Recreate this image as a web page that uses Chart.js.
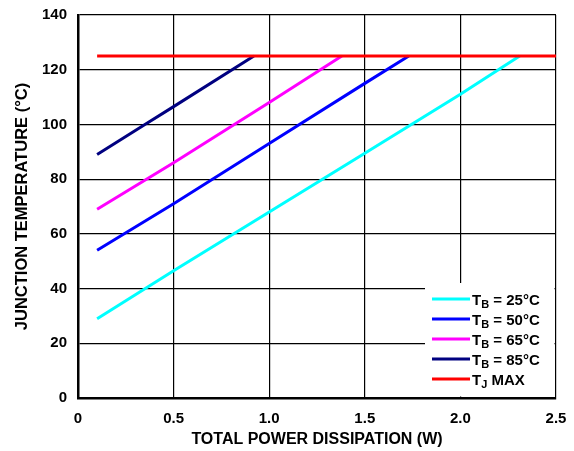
<!DOCTYPE html>
<html>
<head>
<meta charset="utf-8">
<script src="https://cdn.jsdelivr.net/npm/chart.js@4"></script>
<style>
  html, body { margin: 0; padding: 0; background: #fff; }
  #wrap { width: 574px; height: 451px; }
</style>
</head>
<body>
<div id="wrap"><canvas id="junction-temp"></canvas></div>
<script>
// values
var powerTB25 = [0.1, 0.5, 1.0, 1.5, 2.0, 2.31];
var tempTB25  = [29, 46.5, 68, 89.5, 111, 125];
var powerTB50 = [0.1, 0.5, 1.0, 1.5, 1.73];
var tempTB50  = [54, 71, 93, 115, 125];
var powerTB65 = [0.1, 0.5, 1.0, 1.38];
var tempTB65  = [69, 86, 108, 125];
var powerTB85 = [0.1, 0.35, 0.5, 0.92];
var tempTB85  = [89, 100, 106.5, 125];
var powerTJ   = [0.1, 2.5];
var tempTJ    = [125, 125];

var xTicks = [0, 0.5, 1.0, 1.5, 2.0, 2.5];
var yTicks = [0, 20, 40, 60, 80, 100, 120, 140];

// legend text: [main, subscript, rest]
var legendText = [
    ['T', 'B', ' = 25°C'],
    ['T', 'B', ' = 50°C'],
    ['T', 'B', ' = 65°C'],
    ['T', 'B', ' = 85°C'],
    ['T', 'J', ' MAX']
];
var lineColors = ['#00ffff', '#0000ff', '#ff00ff', '#000080', '#ff0000'];

function toPoints(xs, ys) {
    return xs.map(function(x, i) { return {x: x, y: ys[i]}; });
}

var FONT = 'Liberation Sans, Arial, sans-serif';

// legend box with subscripts, drawn over the grid
const subLegend = {
    id: 'subLegend',
    afterDraw: function(chart) {
        const ctx = chart.ctx;
        const area = chart.chartArea;
        ctx.save();
        ctx.fillStyle = '#fff';
        ctx.fillRect(425, 283, area.right - 1.5 - 425, area.bottom - 1.5 - 283);
        legendText.forEach(function(parts, i) {
            var y = 299 + i * 20;
            ctx.strokeStyle = lineColors[i];
            ctx.lineWidth = 3;
            ctx.beginPath();
            ctx.moveTo(432, y);
            ctx.lineTo(470, y);
            ctx.stroke();
            ctx.fillStyle = '#000';
            ctx.textBaseline = 'alphabetic';
            ctx.font = 'bold 15px ' + FONT;
            var x = 472;
            ctx.fillText(parts[0], x, y + 6);
            x += ctx.measureText(parts[0]).width;
            ctx.font = 'bold 11px ' + FONT;
            ctx.fillText(parts[1], x, y + 9);
            x += ctx.measureText(parts[1]).width;
            ctx.font = 'bold 15px ' + FONT;
            ctx.fillText(parts[2], x, y + 6);
        });
        ctx.restore();
    }
};

document.addEventListener('DOMContentLoaded', function() {
    const el = document.getElementById('junction-temp');
    const pts = [
        toPoints(powerTB25, tempTB25),
        toPoints(powerTB50, tempTB50),
        toPoints(powerTB65, tempTB65),
        toPoints(powerTB85, tempTB85),
        toPoints(powerTJ, tempTJ)
    ];

    new Chart(el, {
        type: 'line',
        data: {
            datasets: pts.map(function(p, i) {
                return {
                    label: legendText[i].join(''),
                    data: p,
                    borderColor: lineColors[i],
                    borderWidth: 3,
                    pointRadius: 0,
                    tension: 0,
                    order: i === 4 ? -1 : i
                };
            })
        },
        options: {
            responsive: true,
            maintainAspectRatio: false,
            animation: false,
            layout: {
                padding: {top: 15, right: 18, bottom: 2, left: 0}
            },
            plugins: {
                legend: {display: false},
                tooltip: {enabled: false}
            },
            scales: {
                x: {
                    type: 'linear',
                    min: 0,
                    max: 2.5,
                    afterBuildTicks: function(axis) {
                        axis.ticks = xTicks.map(function(v) { return {value: v}; });
                    },
                    afterFit: function(axis) {
                        axis.height = 51;
                        axis.paddingLeft = 0;
                        axis.paddingRight = 0;
                    },
                    grid: {color: '#000', lineWidth: 1.2, drawTicks: false},
                    border: {color: '#000', width: 2.5},
                    ticks: {
                        color: '#000',
                        padding: 12,
                        font: {family: FONT, size: 15, weight: 'bold'},
                        callback: function(v) { return v === 0 ? '0' : v.toFixed(1); }
                    },
                    title: {
                        display: true,
                        text: 'TOTAL POWER DISSIPATION (W)',
                        color: '#000',
                        font: {family: FONT, size: 16, weight: 'bold'},
                        padding: {top: 3, bottom: 0}
                    }
                },
                y: {
                    min: 0,
                    max: 140,
                    afterBuildTicks: function(axis) {
                        axis.ticks = yTicks.map(function(v) { return {value: v}; });
                    },
                    afterFit: function(axis) {
                        axis.width = 78;
                        axis.paddingTop = 0;
                        axis.paddingBottom = 0;
                    },
                    grid: {color: '#000', lineWidth: 1.2, drawTicks: false},
                    border: {color: '#000', width: 2.5},
                    ticks: {
                        color: '#000',
                        padding: 11,
                        font: {family: FONT, size: 15, weight: 'bold'}
                    },
                    title: {
                        display: true,
                        text: 'JUNCTION TEMPERATURE (°C)',
                        color: '#000',
                        font: {family: FONT, size: 16.5, weight: 'bold'},
                        padding: {top: 13, bottom: 0}
                    }
                }
            }
        },
        plugins: [subLegend]
    });
});
</script>
</body>
</html>
